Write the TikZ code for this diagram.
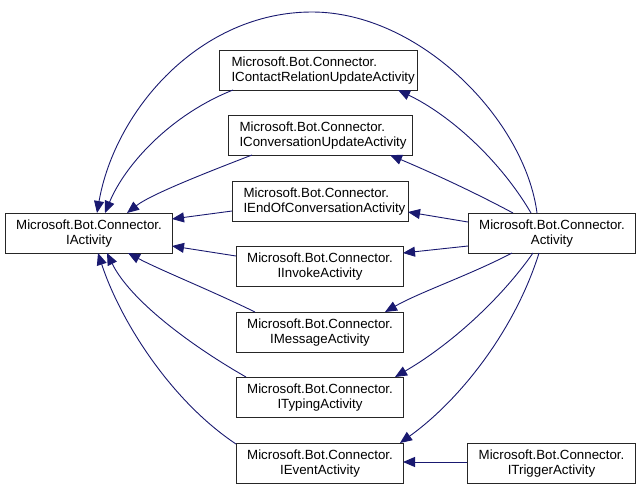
\documentclass[tikz,border=0pt]{standalone}
\usepackage{fontspec}
\setmainfont{Liberation Sans}
\usetikzlibrary{arrows.meta,calc}
\definecolor{edgeblue}{HTML}{191970}
\begin{document}
\begin{tikzpicture}[x=1pt,y=-1pt,
  cls/.style={draw=black!85, fill=white, line width=1pt, rectangle, inner sep=0pt,
    anchor=north west, minimum height=40pt, font=\fontsize{13.3}{15.5}\selectfont, align=center},
  lft/.style={align=left, text width=#1},
  inh/.style={draw=edgeblue, line width=0.9pt, -{Triangle[length=12pt,width=10pt]}}]
\useasboundingbox (0,0) rectangle (640,488);
% nodes
\node[cls, minimum width=167pt] (ia)   at (5,213)   {Microsoft.Bot.Connector.\\IActivity};
\node[cls, minimum width=167pt] (act)  at (468,213) {Microsoft.Bot.Connector.\\Activity};
\node[cls, minimum width=198pt, lft=174pt] (icr) at (219,50)  {Microsoft.Bot.Connector.\\IContactRelationUpdateActivity};
\node[cls, minimum width=184pt, lft=162pt] (icu) at (228,115) {Microsoft.Bot.Connector.\\IConversationUpdateActivity};
\node[cls, minimum width=176pt, lft=154pt] (ieoc) at (232,181) {Microsoft.Bot.Connector.\\IEndOfConversationActivity};
\node[cls, minimum width=167pt] (iinv) at (236,246) {Microsoft.Bot.Connector.\\IInvokeActivity};
\node[cls, minimum width=167pt] (imsg) at (236,312) {Microsoft.Bot.Connector.\\IMessageActivity};
\node[cls, minimum width=167pt] (ityp) at (236,377) {Microsoft.Bot.Connector.\\ITypingActivity};
\node[cls, minimum width=167pt] (iev)  at (236,443) {Microsoft.Bot.Connector.\\IEventActivity};
\node[cls, minimum width=168pt] (itr)  at (467,443) {Microsoft.Bot.Connector.\\ITriggerActivity};
% edges into IActivity
\draw[inh] ($(act.north west)+(69,0)$) .. controls (525,120) and (420,12) .. (312,12)
           .. controls (200,12) and (115,110) .. ($(ia.north west)+(92,0)$);
\draw[inh] ($(icr.north west)+(14,40)$) .. controls (170,115) and (125,165) .. ($(ia.north west)+(100,0)$);
\draw[inh] ($(icu.north west)+(24,40)$) .. controls (200,175) and (150,195) .. ($(ia.north west)+(122,0)$);
\draw[inh] ($(ieoc.north west)+(0,30)$) -- ($(ia.north west)+(167,6)$);
\draw[inh] ($(iinv.north west)+(0,10)$) -- ($(ia.north west)+(167,33)$);
\draw[inh] ($(imsg.north west)+(19,0)$) .. controls (210,290) and (160,270) .. ($(ia.north west)+(123,40)$);
\draw[inh] ($(ityp.north west)+(10,0)$) .. controls (190,345) and (130,300) .. ($(ia.north west)+(102,40)$);
\draw[inh] ($(iev.north west)+(0,1)$) .. controls (170,400) and (120,320) .. ($(ia.north west)+(93,40)$);
% edges from Activity
\draw[inh] ($(act.north west)+(63,0)$) .. controls (500,160) and (450,115) .. ($(icr.north west)+(179,40)$);
\draw[inh] ($(act.north west)+(45,0)$) .. controls (470,190) and (430,172) .. ($(icu.north west)+(162,40)$);
\draw[inh] ($(act.north west)+(0,9)$) -- ($(ieoc.north west)+(176,31)$);
\draw[inh] ($(act.north west)+(0,33)$) -- ($(iinv.north west)+(167,7)$);
\draw[inh] ($(act.north west)+(44,40)$) .. controls (470,275) and (420,292) .. ($(imsg.north west)+(149,0)$);
\draw[inh] ($(act.north west)+(65,40)$) .. controls (500,300) and (450,345) .. ($(ityp.north west)+(159,0)$);
\draw[inh] ($(act.north west)+(71,40)$) .. controls (515,330) and (460,400) .. ($(iev.north west)+(164,0)$);
% trigger
\draw[inh] ($(itr.north west)+(0,19)$) -- ($(iev.north west)+(167,19)$);
\end{tikzpicture}
\end{document}
